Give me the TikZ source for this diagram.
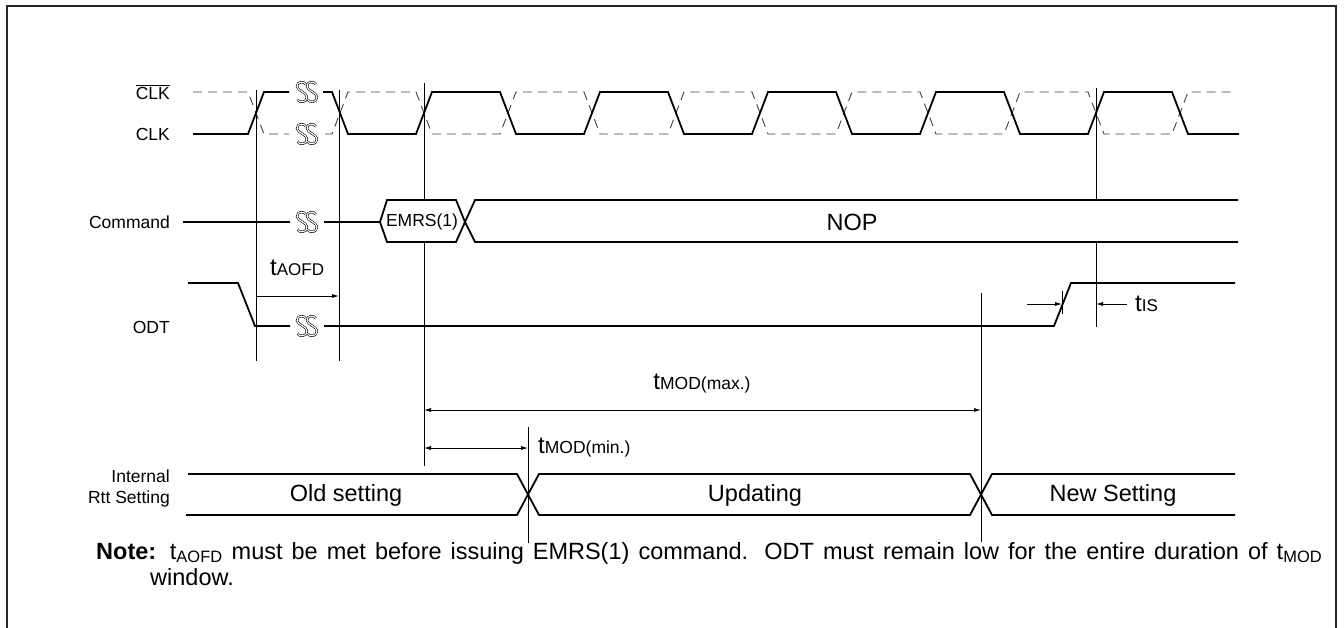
\documentclass[tikz,border=0pt]{standalone}
\usepackage{fontspec}
\setmainfont{Liberation Sans}
\usetikzlibrary{arrows.meta}
\begin{document}
\begin{tikzpicture}[x=1pt,y=-1pt,
  sig/.style={line width=1.8pt, line join=miter},
  dsig/.style={line width=0.9pt, black!75, dash pattern=on 9pt off 6pt},
  vline/.style={line width=0.8pt},
  dimr/.style={line width=0.8pt, -{Latex[length=7pt,width=4pt]}},
  dimb/.style={line width=0.8pt, {Latex[length=7pt,width=4pt]}-{Latex[length=7pt,width=4pt]}},
  lbl/.style={font=\fontsize{17.5}{21}\selectfont, anchor=east, inner sep=0pt},
  bustxt/.style={font=\fontsize{23.5}{27}\selectfont, inner sep=0pt},
  tlbl/.style={font=\fontsize{24}{27}\selectfont, inner sep=0pt, anchor=west},
  brk/.pic={
    \foreach \dx in {-5,5}{
      \draw[line width=0.6pt, double=white, double distance=1.1pt, shift={(\dx,0)}]
        (4,-7.5) .. controls (2,-11) and (-5,-11) .. (-5,-5.5)
        .. controls (-5,-1.5) and (5,0.5) .. (5,5)
        .. controls (5,11) and (-3,11) .. (-4.5,7.5);
    }
  }
  ]
\useasboundingbox (0,0) rectangle (1344,628);
\draw[line width=2pt, black!85] (7,640) -- (7,6) -- (1336,6) -- (1336,640);

% key coordinates
\coordinate (ta) at (256,0);
\coordinate (tb) at (339,0);
\coordinate (tc) at (424,0);
\coordinate (td) at (528,0);
\coordinate (te) at (981,0);
\coordinate (tf) at (1096,0);
\coordinate (tg) at (1062,0);

% vertical reference lines
\draw[vline] (ta |- 0,90) -- (ta |- 0,361);
\draw[vline] (tb |- 0,90) -- (tb |- 0,361);
\draw[vline] (tc |- 0,83) -- (tc |- 0,466);
\draw[vline] (tf |- 0,88) -- (tf |- 0,327);
\draw[vline] (te |- 0,293) -- (te |- 0,542);
\draw[vline] (td |- 0,427) -- (td |- 0,543);
\draw[vline] (tg |- 0,291) -- (tg |- 0,314);

% CLK# (dashed)
\draw[dsig] (193,92) -- (248,92) -- (264,134) -- (289,134);
\draw[dsig] (325,134) -- (332,134) -- (348,92) -- (416,92) -- (432,134) -- (500,134) -- (516,92)
  -- (584,92) -- (600,134) -- (668,134) -- (684,92) -- (752,92) -- (768,134) -- (836,134)
  -- (852,92) -- (920,92) -- (936,134) -- (1004,134) -- (1020,92) -- (1088,92) -- (1104,134)
  -- (1172,134) -- (1188,92) -- (1236,92);
% CLK (solid)
\draw[sig] (193,134) -- (248,134) -- (264,92) -- (289,92);
\draw[sig] (323,92) -- (332,92) -- (348,134) -- (416,134) -- (432,92) -- (500,92) -- (516,134)
  -- (584,134) -- (600,92) -- (668,92) -- (684,134) -- (752,134) -- (768,92) -- (836,92)
  -- (852,134) -- (920,134) -- (936,92) -- (1004,92) -- (1020,134) -- (1088,134) -- (1104,92)
  -- (1172,92) -- (1188,134) -- (1239,134);
\pic at (307,92) {brk};
\pic at (307,134) {brk};

% Command
\draw[sig] (183,222) -- (290,222);
\draw[sig] (324,222) -- (380,222);
\pic at (307,222) {brk};
\draw[sig, fill=white] (380,222) -- (387,200) -- (456,200) -- (465,222) -- (456,242) -- (387,242) -- cycle;
\fill[white] (465,222) -- (475,200) -- (1238,200) -- (1238,242) -- (475,242) -- cycle;
\draw[sig] (465,222) -- (475,200) -- (1238,200);
\draw[sig] (465,222) -- (475,242) -- (1238,242);
\node[font=\fontsize{17.5}{20}\selectfont, inner sep=0pt] (emrs) at (422,222) {EMRS(1)};
\node[bustxt] (nop) at (852,222) {NOP};

% ODT
\draw[sig] (188,283) -- (238,283) -- (255,326) -- (290,326);
\draw[sig] (324,326) -- (1054,326) -- (1071,283) -- (1235,283);
\pic at (307,326) {brk};

% Internal Rtt setting bus
\draw[sig] (188,474) -- (517,474) -- (539,515) -- (970,515) -- (992,474) -- (1235,474);
\draw[sig] (186,515) -- (517,515) -- (539,474) -- (970,474) -- (992,515) -- (1235,515);
\node[bustxt] (old) at (346,495) {Old setting};
\node[bustxt] (upd) at (755,495) {Updating};
\node[bustxt] (new) at (1113,495) {New Setting};

% timing arrows
\coordinate (aofdA) at (ta |- 0,296);
\coordinate (aofdB) at (tb |- 0,296);
\draw[dimr] (aofdA) -- (aofdB);
\node[tlbl] (taofd) at (270,268) {t{\fontsize{17}{19}\selectfont AOFD}};

\coordinate (maxA) at (tc |- 0,410);
\coordinate (maxB) at (te |- 0,410);
\draw[dimb] (maxA) -- (maxB);
\node[tlbl, anchor=center] (tmax) at (702,384) {t{\fontsize{17.5}{19}\selectfont MOD(max.)}};

\coordinate (minA) at (tc |- 0,448);
\coordinate (minB) at (td |- 0,448);
\draw[dimb] (minA) -- (minB);
\node[tlbl] (tmin) at (538,448) {t{\fontsize{17.5}{19}\selectfont MOD(min.)}};

\coordinate (isA) at (1027,304);
\coordinate (isB) at (tg |- 0,304);
\coordinate (isC) at (1127,304);
\coordinate (isD) at (tf |- 0,304);
\draw[dimr] (isA) -- (isB);
\draw[dimr] (isC) -- (isD);
\node[tlbl] (tis) at (1135,304) {t{\fontsize{17}{19}\selectfont IS}};

% signal labels
\node[lbl] (lclkb) at (170,92) {$\overline{\mbox{CLK}}$};
\node[lbl] (lclk) at (170,134) {CLK};
\node[lbl] (lcmd) at (170,222) {Command};
\node[lbl] (lodt) at (170,327) {ODT};
\node[lbl, align=right] (lrtt) at (170,488) {Internal\\Rtt Setting};

% note
\node[anchor=west, inner sep=0pt, font=\fontsize{23.5}{28}\selectfont] (note1) at (96,553)
  {\makebox[1226pt][s]{\textbf{Note:} t\textsubscript{AOFD} must be met before issuing EMRS(1) command. ODT must remain low for the entire duration of t\textsubscript{MOD}}};
\node[anchor=west, inner sep=0pt, font=\fontsize{23.5}{28}\selectfont] (note2) at (150,577) {window.};
\end{tikzpicture}
\end{document}
